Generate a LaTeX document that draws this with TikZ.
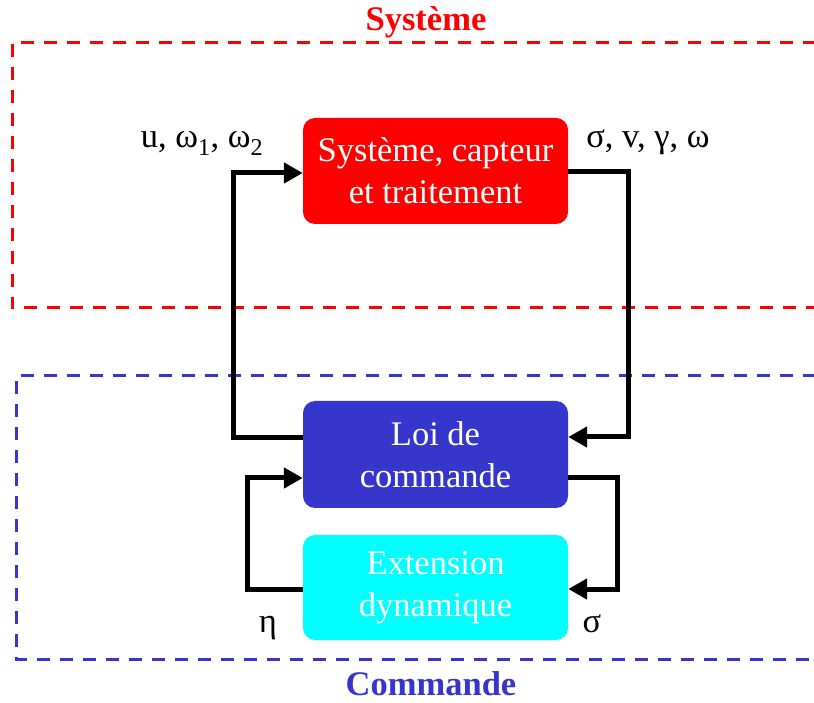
\documentclass[tikz,border=0pt]{standalone}
\usepackage{fontspec}
\setmainfont{Liberation Serif}
\usetikzlibrary{arrows.meta,calc}
\definecolor{sysred}{HTML}{FF0000}
\definecolor{cmdblue}{HTML}{3636CC}
\definecolor{extcyan}{HTML}{00FFFF}
\begin{document}
\begin{tikzpicture}[x=1pt,y=1pt,
  blockbox/.style={rounded corners=12pt, minimum width=265pt, text=white, align=center,
    font=\fontsize{34.5}{42}\selectfont, inner sep=0pt},
  conn/.style={line width=5pt, -{Triangle[length=19pt,width=20pt]}},
  lbl/.style={font=\fontsize{34.5}{42}\selectfont, anchor=base, inner sep=0pt},
  ttl/.style={font=\fontsize{34.5}{42}\selectfont\bfseries, anchor=base, inner sep=0pt},
  zone/.style={line width=3pt, dash pattern=on 13pt off 10pt}]
\useasboundingbox (0,0) rectangle (814,702);
\clip (0,0) rectangle (814,702);
% zones
\draw[zone, sysred] (816,659) -- (12,659) -- (12,394) -- (816,394);
\draw[zone, cmdblue] (816,326) -- (16,326) -- (16,43) -- (816,43);
\node[ttl, text=sysred] (tsys) at (426,671) {Système};
\node[ttl, text=cmdblue] (tcmd) at (431,7) {Commande};
% blocks
\node[blockbox, fill=sysred, minimum height=106pt] (sys) at (435.5,531) {Système, capteur\\et traitement};
\node[blockbox, fill=cmdblue, minimum height=107pt] (loi) at (435.5,247.5) {Loi de\\commande};
\node[blockbox, fill=extcyan, minimum height=105pt] (ext) at (435.5,114.5) {Extension\\dynamique};
% connectors
\coordinate (loiwu) at ($(loi.west)+(0,16.5)$);
\coordinate (loiwd) at ($(loi.west)+(0,-23.5)$);
\coordinate (loieu) at ($(loi.east)+(0,17.5)$);
\coordinate (loied) at ($(loi.east)+(0,-23.5)$);
\coordinate (sysw) at ($(sys.west)+(0,-2)$);
\coordinate (syse) at ($(sys.east)+(0,-1)$);
\coordinate (extw) at ($(ext.west)+(0,-1.5)$);
\coordinate (exte) at ($(ext.east)+(0,-1.5)$);
\draw[conn] (loiwu) -| (233,500) |- (sysw);
\draw[conn] (syse) -| (628,400) |- (loieu);
\draw[conn] (loied) -| (617,150) |- (exte);
\draw[conn] (extw) -| (247,150) |- (loiwd);
% labels
\node[lbl] (lu) at (202,554) {u, ω\textsubscript{1}, ω\textsubscript{2}};
\node[lbl] (ls) at (648,554) {σ, v, γ, ω};
\node[lbl] (leta) at (268,70) {η};
\node[lbl] (lsig) at (592,70) {σ};
\end{tikzpicture}
\end{document}
